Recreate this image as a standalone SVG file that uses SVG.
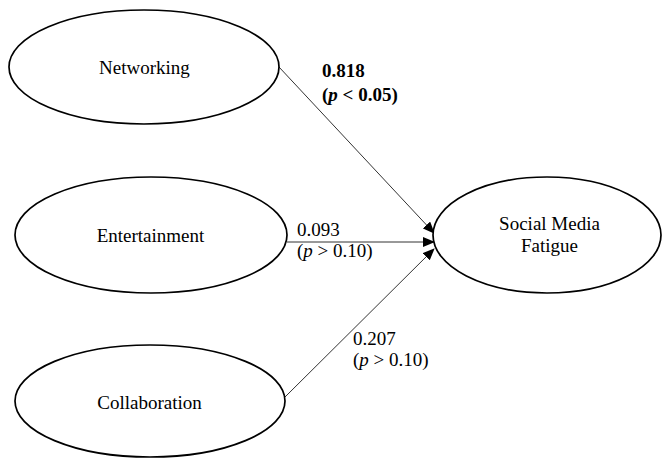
<svg xmlns="http://www.w3.org/2000/svg" width="662" height="459" viewBox="0 0 662 459">
<style>
.node ellipse{fill:#fff;stroke:#000;stroke-width:1.7}
text{font-family:"Liberation Serif","Times New Roman",serif;font-size:19px;fill:#000}
.c{text-anchor:middle}
.b{font-weight:bold}
.edge{stroke:#333;stroke-width:1;fill:none;marker-end:url(#ah)}
</style>
<defs>
<marker id="ah" markerWidth="12" markerHeight="10" refX="11" refY="5" orient="auto" markerUnits="userSpaceOnUse">
<path d="M0,0 L12,5 L0,10 z" fill="#000"/>
</marker>
</defs>
<g id="connectors">
<line class="edge" x1="279" y1="67" x2="434" y2="233"/>
<line class="edge" x1="287" y1="242" x2="434" y2="242"/>
<line class="edge" x1="285" y1="397" x2="434" y2="249"/>
</g>
<g id="networking" class="node">
<ellipse cx="144" cy="67" rx="135" ry="57"/>
<text class="c" x="144.5" y="74">Networking</text>
</g>
<g id="entertainment" class="node">
<ellipse cx="151" cy="235" rx="136" ry="58"/>
<text class="c" x="150.5" y="242">Entertainment</text>
</g>
<g id="collaboration" class="node">
<ellipse cx="150" cy="401" rx="135" ry="56"/>
<text class="c" x="149.5" y="409">Collaboration</text>
</g>
<g id="smf" class="node">
<ellipse cx="547" cy="235" rx="114" ry="58"/>
<text class="c" x="549.5" y="230">Social Media</text>
<text class="c" x="549.5" y="252">Fatigue</text>
</g>
<g id="labels">
<text class="b" x="322" y="77">0.818</text>
<text class="b" x="322" y="101">(<tspan font-style="italic">p</tspan> &lt; 0.05)</text>
<text x="297" y="236">0.093</text>
<text x="297" y="257">(<tspan font-style="italic">p</tspan> &gt; 0.10)</text>
<text x="353" y="345">0.207</text>
<text x="353" y="366">(<tspan font-style="italic">p</tspan> &gt; 0.10)</text>
</g>
</svg>
